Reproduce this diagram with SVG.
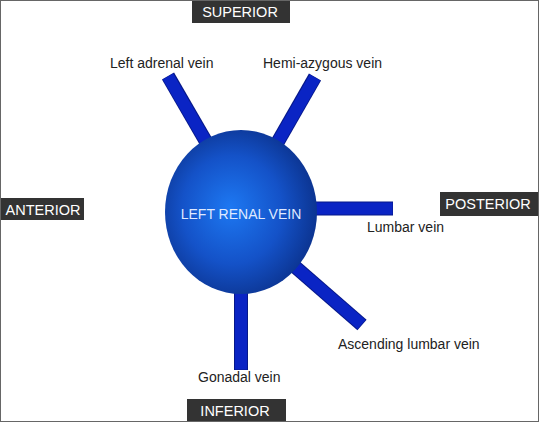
<svg xmlns="http://www.w3.org/2000/svg" width="539" height="422" viewBox="0 0 539 422">
<defs>
<radialGradient id="ball" cx="0.45" cy="0.5" r="0.6" fx="0.43" fy="0.47">
<stop offset="0" stop-color="#1d78f2"/>
<stop offset="0.55" stop-color="#1452c8"/>
<stop offset="1" stop-color="#0a2e86"/>
</radialGradient>
<style>
.tube{stroke:#0a24c4;stroke-width:12;fill:none;stroke-linecap:butt}
.tubeo{stroke:#06188a;stroke-width:14;fill:none;stroke-linecap:butt}
.lbl{font-family:"Liberation Sans",Arial,sans-serif;font-size:14px;fill:#222}
.box{fill:#333}
.boxt{font-family:"Liberation Sans",Arial,sans-serif;font-size:14.5px;fill:#fff}
</style>
</defs>
<rect x="0" y="0" width="539" height="422" fill="#fff"/>
<g id="connectors">
<line class="tubeo" x1="168" y1="76" x2="212" y2="152"/>
<line class="tube" x1="168" y1="76.5" x2="212" y2="152"/>
<line class="tubeo" x1="315" y1="77" x2="272" y2="152"/>
<line class="tube" x1="315" y1="77.5" x2="272" y2="152"/>
<line class="tubeo" x1="300" y1="208.5" x2="393" y2="208.5"/>
<line class="tube" x1="300" y1="208.5" x2="392.5" y2="208.5"/>
<line class="tubeo" x1="285" y1="258" x2="362" y2="325"/>
<line class="tube" x1="285" y1="258" x2="361.5" y2="324.5"/>
<line class="tubeo" x1="241" y1="280" x2="241" y2="370"/>
<line class="tube" x1="241" y1="280" x2="241" y2="369.5"/>
</g>
<g id="left-renal-vein">
<ellipse cx="241" cy="212" rx="76" ry="82" fill="url(#ball)"/>
<text x="241" y="219" text-anchor="middle" font-family="Liberation Sans, Arial, sans-serif" font-size="14" fill="#dfe9ff">LEFT RENAL VEIN</text>
</g>
<g id="left-adrenal-vein"><text class="lbl" x="110" y="68">Left adrenal vein</text></g>
<g id="hemi-azygous-vein"><text class="lbl" x="263" y="68">Hemi-azygous vein</text></g>
<g id="lumbar-vein"><text class="lbl" x="367" y="232">Lumbar vein</text></g>
<g id="ascending-lumbar-vein"><text class="lbl" x="338" y="349">Ascending lumbar vein</text></g>
<g id="gonadal-vein"><text class="lbl" x="198" y="382">Gonadal vein</text></g>
<g id="superior"><rect class="box" x="192" y="0" width="98" height="23"/><text class="boxt" x="240" y="17" text-anchor="middle">SUPERIOR</text></g>
<g id="anterior"><rect class="box" x="0" y="198" width="84" height="22"/><text class="boxt" x="43" y="214.5" text-anchor="middle">ANTERIOR</text></g>
<g id="posterior"><rect class="box" x="440" y="192" width="99" height="24"/><text class="boxt" x="488" y="209" text-anchor="middle">POSTERIOR</text></g>
<g id="inferior"><rect class="box" x="187" y="399" width="99" height="23"/><text class="boxt" x="235" y="416" text-anchor="middle">INFERIOR</text></g>
<rect x="0.5" y="0.5" width="538" height="421" fill="none" stroke="#666" stroke-width="1"/>
</svg>
